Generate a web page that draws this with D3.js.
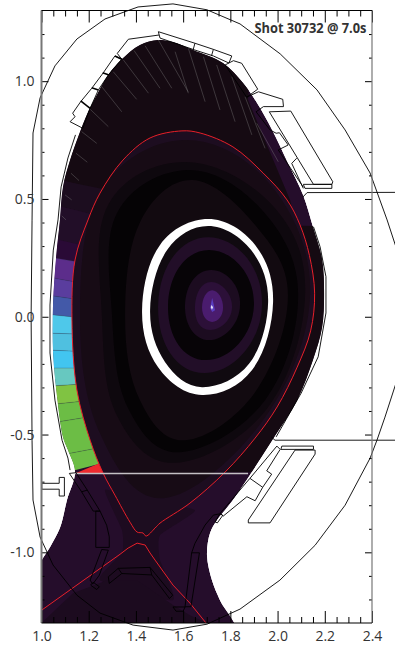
<!DOCTYPE html>
<html>
<head>
<meta charset="utf-8">
<script src="https://cdn.jsdelivr.net/npm/d3@7"></script>
<style>
  html, body { margin: 0; background: #fff; overflow: hidden; }
</style>
</head>
<body>
<div id="chart"></div>
<script>
// All outlines are [R, z] in metres
const xMajorTicks = [1.0, 1.2, 1.4, 1.6, 1.8, 2.0, 2.2, 2.4]
const xMinorTicks = [1.05, 1.1, 1.15, 1.25, 1.3, 1.35, 1.45, 1.5, 1.55, 1.65, 1.7, 1.75, 1.85, 1.9, 1.95, 2.05, 2.1, 2.15, 2.25, 2.3, 2.35]
const yMajorTicks = [-1.0, -0.5, 0.0, 0.5, 1.0]
const yMinorTicks = [-1.2, -1.1, -0.9, -0.8, -0.7, -0.6, -0.4, -0.3, -0.2, -0.1, 0.1, 0.2, 0.3, 0.4, 0.6, 0.7, 0.8, 0.9, 1.1, 1.2]
const title = "Shot 30732 @ 7.0s"

const vessel = [[0.96,-0.524],[0.956,0],[0.96,0.41],[0.964,0.78],[0.994,0.929],[1.057,1.065],[1.15,1.179],[1.269,1.264],[1.409,1.315],[1.557,1.328],[1.701,1.303],[1.841,1.243],[2.011,1.116],[2.167,0.963],[2.286,0.793],[2.392,0.61],[2.464,0.411],[2.51,0.27],[2.527,0.007],[2.51,-0.256],[2.455,-0.426],[2.421,-0.524],[2.392,-0.6],[2.286,-0.8],[2.159,-0.97],[2.01,-1.118],[1.841,-1.241],[1.701,-1.305],[1.557,-1.33],[1.388,-1.309],[1.248,-1.258],[1.15,-1.182],[1.049,-1.054],[0.994,-0.935],[0.964,-0.778]]

const plasma = [[1.494,1.175],[1.417,1.154],[1.341,1.094],[1.282,1.026],[1.235,0.942],[1.197,0.869],[1.155,0.763],[1.121,0.665],[1.091,0.551],[1.078,0.41],[1.062,0.254],[1.049,0.058],[1.049,-0.154],[1.066,-0.341],[1.091,-0.511],[1.112,-0.566],[1.142,-0.659],[1.108,-0.778],[1.078,-0.897],[1.036,-0.978],[0.99,-1.06],[0.98,-1.34],[1.82,-1.34],[1.756,-1.203],[1.722,-1.118],[1.701,-1.012],[1.714,-0.918],[1.744,-0.863],[1.811,-0.778],[1.977,-0.524],[2.083,-0.354],[2.15,-0.184],[2.189,-0.044],[2.197,0.101],[2.189,0.241],[2.15,0.381],[2.108,0.517],[2.044,0.653],[1.977,0.793],[1.913,0.907],[1.854,0.992],[1.769,1.077],[1.642,1.132],[1.557,1.166]]

const darkUpper = [[1.0,0.6],[1.0,1.3],[1.9,1.3],[1.875,0.92],[2.053,0.496],[2.079,0.386],[2.3,0.385],[2.3,-0.66],[1.25,-0.66],[1.25,0.538]]
const bottomMound = [[1,-1.3],[1.133,-1.174],[1.278,-1.118],[1.405,-1.118],[1.557,-1.224],[1.629,-1.267],[1.7,-1.3]]
const xBand = [[1.269,-0.736],[1.341,-0.906],[1.341,-1.003],[1.248,-1.118],[1.557,-1.203],[1.502,-1.033],[1.502,-0.927],[1.65,-0.821],[1.417,-0.778]]

// Coloured edge band: one edge per entry, colour i sits between edge i and i+1
const edgeOuterR = [1.074,1.053,1.04,1.027,1.024,1.023,1.019,1.019,1.023,1.027,1.036,1.053,1.065,1.082,1.112]
const edgeOuterZ = [0.58,0.474,0.334,0.254,0.169,0.092,0.011,-0.069,-0.141,-0.218,-0.294,-0.371,-0.447,-0.587,-0.659]
const edgeInnerR = [1.281,1.226,1.171,1.158,1.145,1.141,1.137,1.141,1.141,1.145,1.162,1.179,1.196,1.239,1.26]
const edgeInnerZ = [0.538,0.432,0.304,0.232,0.147,0.075,-0.001,-0.073,-0.146,-0.218,-0.286,-0.358,-0.426,-0.557,-0.621]
const edgeColors = ["#1c0d1f","#220e28","#2a0a36","#5c2d8b","#5a3d9e","#4359a8","#4ec8ea","#4fc0e0","#42c5f0","#67c8c0","#80c342","#6cbd45","#6cbd45","#6cbd45"]
const redTip = [[1.142,-0.665],[1.248,-0.621],[1.267,-0.665]]

const separatrix = [[1.197,0.411],[1.248,0.525],[1.345,0.665],[1.46,0.759],[1.595,0.789],[1.672,0.78],[1.811,0.721],[1.939,0.61],[2.04,0.496],[2.095,0.39],[2.135,0.26],[2.157,0.1],[2.14,-0.06],[2.083,-0.214],[1.998,-0.383],[1.905,-0.515],[1.778,-0.659],[1.629,-0.791],[1.502,-0.876],[1.481,-0.897],[1.443,-0.931],[1.43,-0.918],[1.405,-0.914],[1.375,-0.872],[1.311,-0.757],[1.261,-0.664],[1.206,-0.524],[1.15,-0.311],[1.129,-0.014],[1.142,0.241]]
const separatrixLegs = [[1,-1.246],[1.333,-1.008],[1.367,-0.982],[1.405,-0.961],[1.439,-0.969],[1.46,-1.003],[1.481,-1.033],[1.557,-1.139],[1.629,-1.216],[1.701,-1.305]]

// Flux contours, outermost first
const outerContours = [
  [[1.163,0],[1.25,0.53],[1.6,0.75],[1.97,0.56],[2.138,0.1],[1.945,-0.43],[1.52,-0.77],[1.25,-0.5]],
  [[1.256,0],[1.282,0.474],[1.608,0.657],[1.977,0.474],[2.117,0.1],[1.955,-0.39],[1.566,-0.62],[1.32,-0.42]],
  [[1.299,0],[1.32,0.44],[1.62,0.623],[1.934,0.453],[2.087,0.1],[1.947,-0.354],[1.587,-0.575],[1.367,-0.388]],
  [[1.354,0],[1.417,0.4],[1.638,0.58],[1.905,0.389],[2.044,0.09],[1.905,-0.32],[1.608,-0.524],[1.417,-0.354]],
  [[1.426,0.028],[1.502,0.305],[1.706,0.415],[1.905,0.305],[1.981,0.063],[1.892,-0.226],[1.68,-0.332],[1.494,-0.214]],
  [[1.46,0.028],[1.532,0.283],[1.706,0.385],[1.888,0.283],[1.96,0.063],[1.879,-0.2],[1.68,-0.299],[1.523,-0.192]]
]
const outerContourColors = ["#170b15","#0e080e","#050305","#120a10","#ffffff","#100a10"]
const innerContours = [
  [[1.494,0.05],[1.706,0.338],[1.934,0.05],[1.69,-0.239]],
  [[1.536,0.05],[1.71,0.283],[1.9,0.05],[1.697,-0.184]],
  [[1.608,0.05],[1.719,0.198],[1.841,0.05],[1.71,-0.099]],
  [[1.65,0.04],[1.719,0.147],[1.807,0.04],[1.714,-0.056]],
  [[1.68,0.04],[1.723,0.113],[1.769,0.04],[1.723,-0.022]]
]
const innerContourColors = ["#220e28","#070407","#1c0c20","#2c1038","#4a1c6e"]
const coreSliver = [[1.723,0.08],[1.73,0.05],[1.735,0.028],[1.723,0.02],[1.714,0.037]]
const coreSpot = [[1.72,0.05],[1.727,0.04],[1.722,0.03],[1.717,0.04]]

// Thin sight lines over the upper plasma, [from, to]
const sightLines = [
  [[1.495,1.175],[1.621,0.955]],[[1.439,1.15],[1.552,0.97]],[[1.392,1.13],[1.502,0.97]],[[1.347,1.09],[1.453,0.949]],
  [[1.304,1.04],[1.403,0.923]],[[1.255,0.977],[1.34,0.87]],[[1.206,0.881],[1.283,0.807]],[[1.17,0.786],[1.234,0.736]],
  [[1.146,0.694],[1.194,0.656]],[[1.125,0.609],[1.159,0.578]],[[1.1,0.517],[1.128,0.496]],[[1.086,0.428],[1.104,0.411]],
  [[1.566,1.125],[1.622,0.949]],[[1.622,1.14],[1.693,0.913]],[[1.686,1.104],[1.756,0.878]],[[1.742,1.069],[1.82,0.828]],
  [[1.806,1.019],[1.891,0.772]],[[1.862,0.934],[1.947,0.715]],[[1.912,0.821],[2.003,0.658]]
]

// Machine wall pieces
const closedWalls = [
  [[1.311,1.107],[1.262,1.036],[1.213,0.97],[1.166,0.913],[1.132,0.864],[1.142,0.849],[1.121,0.828],[1.175,0.8],[1.206,0.885],[1.241,0.963],[1.283,1.026],[1.34,1.093]],
  [[1.495,1.21],[1.65,1.161],[1.728,1.135],[1.806,1.107],[1.794,1.077],[1.728,1.107],[1.65,1.132],[1.502,1.183]],
  [[1.778,1.069],[1.813,1.087],[1.848,1.076],[1.916,0.966],[1.869,0.932]],
  [[1.965,0.87],[2.056,0.873],[2.234,0.573],[2.23,0.562],[2.152,0.562]],
  [[2.109,0.562],[2.23,0.562],[2.23,0.545],[2.116,0.545]],
  [[1.997,-0.549],[2.011,-0.563],[1.954,-0.654],[1.975,-0.668],[1.937,-0.724],[1.905,-0.781],[1.87,-0.764],[1.77,-0.846],[1.756,-0.835],[1.883,-0.686]],
  [[2.074,-0.566],[2.159,-0.566],[2.159,-0.583],[1.968,-0.875],[1.876,-0.875],[1.876,-0.863]],
  [[2.018,-0.549],[2.152,-0.549],[2.152,-0.563],[2.014,-0.563]],
  [[1.756,-0.835],[1.735,-0.871],[1.745,-0.875],[1.768,-0.843]],
  [[1.557,-1.232],[1.608,-1.232],[1.6,-1.25],[1.57,-1.25]],
  [[1.118,-0.665],[1.146,-0.662],[1.194,-0.736],[1.248,-0.825],[1.219,-0.825],[1.17,-0.743]],
  [[1.23,-0.825],[1.23,-0.979],[1.287,-0.979],[1.287,-0.934],[1.276,-0.885],[1.248,-0.825]],
  [[1.255,-0.988],[1.206,-1.118],[1.217,-1.135],[1.245,-1.097],[1.283,-0.991]],
  [[1.219,-1.127],[1.245,-1.146],[1.234,-1.158],[1.208,-1.139]],
  [[1.283,-1.104],[1.325,-1.068],[1.46,-1.064],[1.481,-1.09],[1.556,-1.182],[1.542,-1.196],[1.467,-1.096],[1.34,-1.09],[1.287,-1.132]],
  [[1.001,-0.707],[1.075,-0.707],[1.075,-0.682],[1.097,-0.682],[1.097,-0.761],[1.075,-0.761],[1.075,-0.732],[1.001,-0.732]]
]
const openWalls = [
  [[1.34,1.093],[1.321,1.118],[1.368,1.178],[1.498,1.196]],
  [[1.869,0.932],[1.919,0.955],[2.022,0.923],[2.025,0.892],[1.94,0.892],[1.909,0.87],[1.968,0.793],[1.994,0.779],[2.008,0.781]],
  [[2.008,0.781],[2.045,0.729],[2.003,0.708]],
  [[2.081,0.673],[2.06,0.651],[2.109,0.545]],
  [[2.003,0.708],[2.109,0.55]],
  [[1.65,1.161],[1.642,1.132]],
  [[1.728,1.135],[1.72,1.107]],
  [[1.883,-0.686],[1.937,-0.724]],
  [[1.753,-0.837],[1.728,-0.842],[1.693,-0.884],[1.65,-0.962],[1.636,-1.002],[1.608,-1.231],[1.633,-1.231],[1.669,-1.002],[1.636,-1.002]],
  [[1.17,-0.743],[1.194,-0.736]],
  [[1.325,-1.068],[1.34,-1.09]],
  [[1.46,-1.064],[1.467,-1.096]],
  [[2.107,0.508],[2.125,0.527],[2.5,0.528]],
  [[1.973,-0.51],[1.989,-0.524],[2.5,-0.524]],
  [[1.144,0.772],[1.112,0.674],[1.083,0.551],[1.07,0.411],[1.05,0.283],[1.036,0.05],[1.036,-0.154],[1.057,-0.354],[1.087,-0.524],[1.112,-0.6],[1.121,-0.651]],
  [[2.152,0.382],[2.18,0.297],[2.205,0.17],[2.205,0.016],[2.172,-0.17],[2.1,-0.324],[1.994,-0.51]]
]
const heavyWalls = [
  [[1.311,1.107],[1.34,1.093]],[[1.259,1.036],[1.286,1.026]],[[1.213,0.972],[1.241,0.963]],[[1.166,0.916],[1.206,0.885]]
]
const sheetLine = [[1.142,-0.665],[1.875,-0.665]]

const width = 395
const height = 646

const x = d3.scaleLinear().domain([1.0, 2.4]).range([41.5, 372])
const y = d3.scaleLinear().domain([-1.3, 1.3]).range([623, 10.5])

const svg = d3.select("#chart")
  .append("svg")
  .attr("width", width)
  .attr("height", height)
  .style("display", "block")

const path = d3.line().x(d => x(d[0])).y(d => y(d[1]))
const closedPath = points => path(points) + "Z"
const smoothLoop = d3.line().x(d => x(d[0])).y(d => y(d[1])).curve(d3.curveCatmullRomClosed)
// four extreme points need a rounder spline
const roundLoop = d3.line().x(d => x(d[0])).y(d => y(d[1])).curve(d3.curveCardinalClosed.tension(-0.656))
const softLoop = d3.line().x(d => x(d[0])).y(d => y(d[1])).curve(d3.curveCardinalClosed.tension(-0.1))

const defs = svg.append("defs")
defs.append("clipPath").attr("id", "plasma-clip")
  .append("path").attr("d", smoothLoop(plasma))
defs.append("clipPath").attr("id", "axes-clip")
  .append("rect")
  .attr("x", x(1.0)).attr("y", y(1.3))
  .attr("width", x(2.4) - x(1.0)).attr("height", y(-1.3) - y(1.3))

const field = svg.append("g").attr("clip-path", "url(#axes-clip)")
  .append("g").attr("clip-path", "url(#plasma-clip)")

field.append("path").attr("d", smoothLoop(plasma)).attr("fill", "#250d2b")
field.append("path").attr("d", d3.line().x(d => x(d[0])).y(d => y(d[1])).curve(d3.curveCardinalClosed.tension(0.5))(xBand)).attr("fill", "#1d0b20")
field.append("path").attr("d", closedPath(bottomMound)).attr("fill", "#1c0b1f")
field.append("path").attr("d", closedPath(darkUpper)).attr("fill", "#150a12")

// Coloured band along the inner wall
edgeColors.forEach((color, i) => {
  const quad = [
    [edgeOuterR[i], edgeOuterZ[i]],
    [edgeInnerR[i], edgeInnerZ[i]],
    [edgeInnerR[i + 1], edgeInnerZ[i + 1]],
    [edgeOuterR[i + 1], edgeOuterZ[i + 1]]
  ]
  field.append("path").attr("d", closedPath(quad)).attr("fill", color)
  if (i > 2) {
    field.append("path")
      .attr("d", path([quad[0], quad[1]]))
      .attr("stroke", "#2a3a50")
      .attr("stroke-opacity", 0.5)
      .attr("stroke-width", 0.5)
      .attr("fill", "none")
  }
})
field.append("path").attr("d", closedPath(redTip)).attr("fill", "#ee2a2f")

// Inside the separatrix
field.append("path").attr("d", smoothLoop(separatrix)).attr("fill", "#1d0d20")

outerContours.forEach((contour, i) => {
  field.append("path").attr("d", softLoop(contour)).attr("fill", outerContourColors[i])
})
innerContours.forEach((contour, i) => {
  field.append("path").attr("d", roundLoop(contour)).attr("fill", innerContourColors[i])
})
field.append("path").attr("d", closedPath(coreSliver)).attr("fill", "#5a3ec0")
field.append("path").attr("d", closedPath(coreSpot)).attr("fill", "#e4def5")

sightLines.forEach(line => {
  svg.append("path")
    .attr("d", path(line))
    .attr("stroke", "#8a8a8a")
    .attr("stroke-opacity", 0.7)
    .attr("stroke-width", 0.5)
    .attr("fill", "none")
})

// Separatrix and its legs
const clipped = svg.append("g").attr("clip-path", "url(#axes-clip)")
clipped.append("path")
  .attr("d", smoothLoop(separatrix))
  .attr("fill", "none")
  .attr("stroke", "#e8202a")
  .attr("stroke-width", 1)
clipped.append("path")
  .attr("d", path(separatrixLegs))
  .attr("fill", "none")
  .attr("stroke", "#e8202a")
  .attr("stroke-width", 1)

svg.append("path")
  .attr("d", path(sheetLine))
  .attr("stroke", "#c4c0c4")
  .attr("stroke-width", 1.5)

// Wall
closedWalls.forEach(points => {
  svg.append("path").attr("d", closedPath(points))
    .attr("fill", "none").attr("stroke", "#000").attr("stroke-width", 0.9)
})
openWalls.forEach(points => {
  svg.append("path").attr("d", path(points))
    .attr("fill", "none").attr("stroke", "#000").attr("stroke-width", 0.9)
})
heavyWalls.forEach(points => {
  svg.append("path").attr("d", path(points))
    .attr("fill", "none").attr("stroke", "#000").attr("stroke-width", 1.6)
})
svg.append("path").attr("d", closedPath(vessel))
  .attr("fill", "none").attr("stroke", "#000").attr("stroke-width", 0.9)

// Axes: ticks all point inwards
const styleAxis = g => {
  g.selectAll(".domain").remove()
  g.selectAll("line").attr("stroke", "#000").attr("stroke-width", 1)
  g.selectAll("text")
    .attr("fill", "#333")
    .attr("font-family", "'Open Sans', 'Noto Sans', sans-serif")
    .attr("font-size", "14px")
}

const fmt = d => d.toFixed(1)

svg.append("g").attr("transform", `translate(0,${y(-1.3)})`)
  .call(d3.axisBottom(x).tickValues(xMinorTicks).tickSize(-6).tickFormat(""))
  .call(styleAxis)
svg.append("g").attr("transform", `translate(0,${y(-1.3)})`)
  .call(d3.axisBottom(x).tickValues(xMajorTicks).tickSize(-12).tickSizeOuter(0).tickPadding(8).tickFormat(fmt))
  .call(styleAxis)
svg.append("g").attr("transform", `translate(0,${y(1.3)})`)
  .call(d3.axisTop(x).tickValues(xMinorTicks).tickSize(-6).tickFormat(""))
  .call(styleAxis)
svg.append("g").attr("transform", `translate(0,${y(1.3)})`)
  .call(d3.axisTop(x).tickValues(xMajorTicks).tickSize(-12).tickSizeOuter(0).tickFormat(""))
  .call(styleAxis)
svg.append("g").attr("transform", `translate(${x(1.0)},0)`)
  .call(d3.axisLeft(y).tickValues(yMinorTicks).tickSize(-3).tickFormat(""))
  .call(styleAxis)
svg.append("g").attr("transform", `translate(${x(1.0)},0)`)
  .call(d3.axisLeft(y).tickValues(yMajorTicks).tickSize(-7).tickPadding(7).tickFormat(fmt))
  .call(styleAxis)
svg.append("g").attr("transform", `translate(${x(2.4)},0)`)
  .call(d3.axisRight(y).tickValues(yMinorTicks).tickSize(-3).tickFormat(""))
  .call(styleAxis)
svg.append("g").attr("transform", `translate(${x(2.4)},0)`)
  .call(d3.axisRight(y).tickValues(yMajorTicks).tickSize(-7).tickFormat(""))
  .call(styleAxis)

// Frame: grey sides, black top and bottom
svg.append("path").attr("d", path([[1.0, 1.3], [1.0, -1.3]])).attr("stroke", "#777").attr("stroke-width", 2)
svg.append("path").attr("d", path([[2.4, 1.3], [2.4, -1.3]])).attr("stroke", "#777").attr("stroke-width", 1.2)
svg.append("path").attr("d", path([[1.0, 1.3], [2.4, 1.3]])).attr("stroke", "#000").attr("stroke-width", 1.2)
svg.append("path").attr("d", path([[1.0, -1.3], [2.4, -1.3]])).attr("stroke", "#000").attr("stroke-width", 1.2)

svg.append("text")
  .attr("x", 254.5)
  .attr("y", 33)
  .attr("textLength", 112)
  .attr("lengthAdjust", "spacingAndGlyphs")
  .attr("fill", "#333")
  .attr("font-family", "'Open Sans', 'Noto Sans', sans-serif")
  .attr("font-weight", "700")
  .attr("font-size", "14px")
  .text(title)
</script>
</body>
</html>
